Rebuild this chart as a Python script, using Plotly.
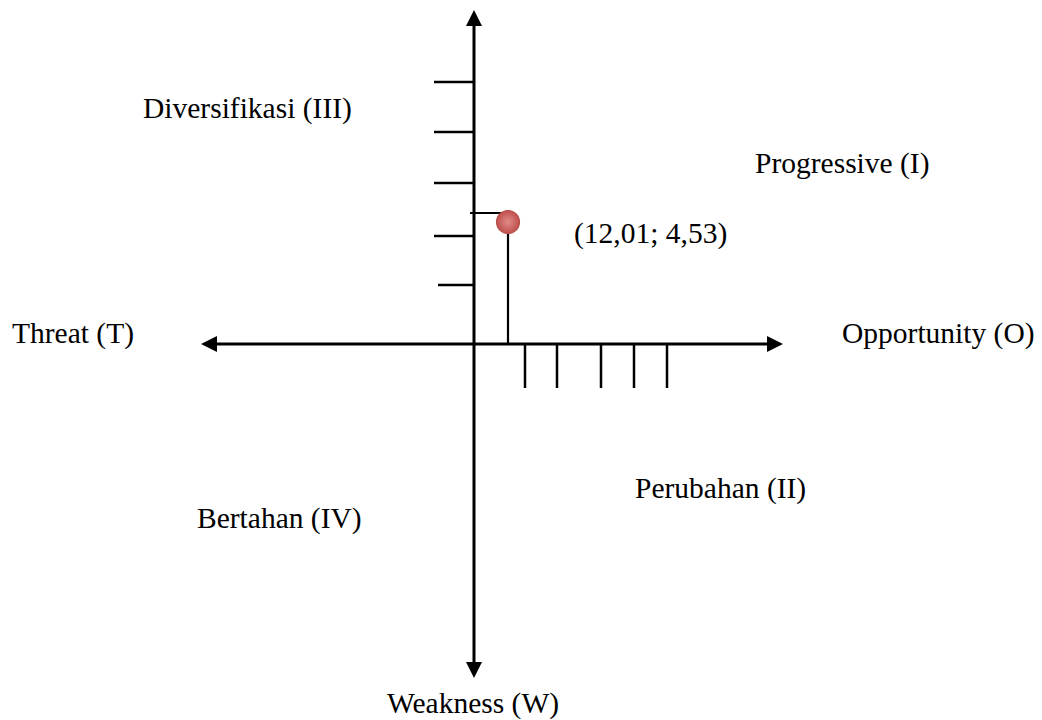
import plotly.graph_objects as go

# Abstract SWOT diagram coordinates (origin = axes intersection)
x_axis_extent = [-273, 309]          # Threat .. Opportunity
y_axis_extent = [-334, 334]          # Weakness .. Strength side
x_ticks = [51, 83, 127, 160, 193]    # tick marks along Opportunity axis
y_ticks = [59, 108, 161, 212, 262]   # tick marks along vertical axis
y_tick_starts = [-36, -40, -40, -40, -40]
point_x = [34]
point_y = [122]
point_guide_y = 131
point_label = "(12,01; 4,53)"

quad_labels = ["Diversifikasi (III)", "Progressive (I)", "Perubahan (II)", "Bertahan (IV)"]
quad_x = [-227, 368, 246, -195]
quad_y = [236, 181, -144, -174]

axis_labels = ["Threat (T)", "Opportunity (O)", "Weakness (W)"]
axis_label_x = [-401, 464, -1]
axis_label_y = [11, 11, -359]

FONT = "Liberation Serif, Times New Roman, serif"
FS = 29.5
fig = go.Figure()

shapes = []
# main axes
shapes.append(dict(type="line", x0=x_axis_extent[0] + 12, x1=x_axis_extent[1] - 12, y0=0, y1=0,
                   line=dict(color="black", width=3)))
shapes.append(dict(type="line", x0=0, x1=0, y0=y_axis_extent[0] + 12, y1=y_axis_extent[1] - 12,
                   line=dict(color="black", width=3)))
# arrow heads
L, W = 16, 8
xl, xr = x_axis_extent
yb, yt = y_axis_extent
shapes.append(dict(type="path", path=f"M {xl},0 L {xl+L},{W} L {xl+L},{-W} Z",
                   fillcolor="black", line=dict(width=0)))
shapes.append(dict(type="path", path=f"M {xr},0 L {xr-L},{W} L {xr-L},{-W} Z",
                   fillcolor="black", line=dict(width=0)))
shapes.append(dict(type="path", path=f"M 0,{yt} L {W},{yt-L} L {-W},{yt-L} Z",
                   fillcolor="black", line=dict(width=0)))
shapes.append(dict(type="path", path=f"M 0,{yb} L {W},{yb+L} L {-W},{yb+L} Z",
                   fillcolor="black", line=dict(width=0)))
# ticks
for xt in x_ticks:
    shapes.append(dict(type="line", x0=xt, x1=xt, y0=0, y1=-44, line=dict(color="black", width=2.5)))
for yt_, s in zip(y_ticks, y_tick_starts):
    shapes.append(dict(type="line", x0=s, x1=0, y0=yt_, y1=yt_, line=dict(color="black", width=2.5)))
# point guides (under the marker)
shapes.append(dict(type="line", x0=point_x[0], x1=point_x[0], y0=0, y1=point_y[0], layer="below",
                   line=dict(color="black", width=2.2)))
shapes.append(dict(type="line", x0=-4, x1=point_x[0] - 5, y0=point_guide_y, y1=point_guide_y,
                   layer="below", line=dict(color="black", width=2.2)))

fig.add_trace(go.Scatter(
    x=point_x, y=point_y, mode="markers",
    marker=dict(size=23, color="#c0504d",
                gradient=dict(type="radial", color="#e08b88"),
                line=dict(color="#b9504d", width=1.2)),
    hoverinfo="skip", showlegend=False))

annotations = []
for t, x, y in zip(quad_labels, quad_x, quad_y):
    annotations.append(dict(x=x, y=y, text=t, showarrow=False, xanchor="center", yanchor="middle",
                            font=dict(family=FONT, size=FS, color="black")))
for t, x, y in zip(axis_labels, axis_label_x, axis_label_y):
    annotations.append(dict(x=x, y=y, text=t, showarrow=False, xanchor="center", yanchor="middle",
                            font=dict(family=FONT, size=FS, color="black")))
annotations.append(dict(x=176, y=111, text=point_label, showarrow=False, xanchor="center",
                        yanchor="middle", font=dict(family=FONT, size=FS, color="black")))

fig.update_layout(
    width=1042, height=720,
    margin=dict(l=0, r=0, t=0, b=0),
    paper_bgcolor="white", plot_bgcolor="white",
    shapes=shapes, annotations=annotations,
    xaxis=dict(range=[-466, 576], visible=False, fixedrange=True),
    yaxis=dict(range=[-384, 336], visible=False, fixedrange=True),
    showlegend=False,
)

fig.write_html("out.html")
